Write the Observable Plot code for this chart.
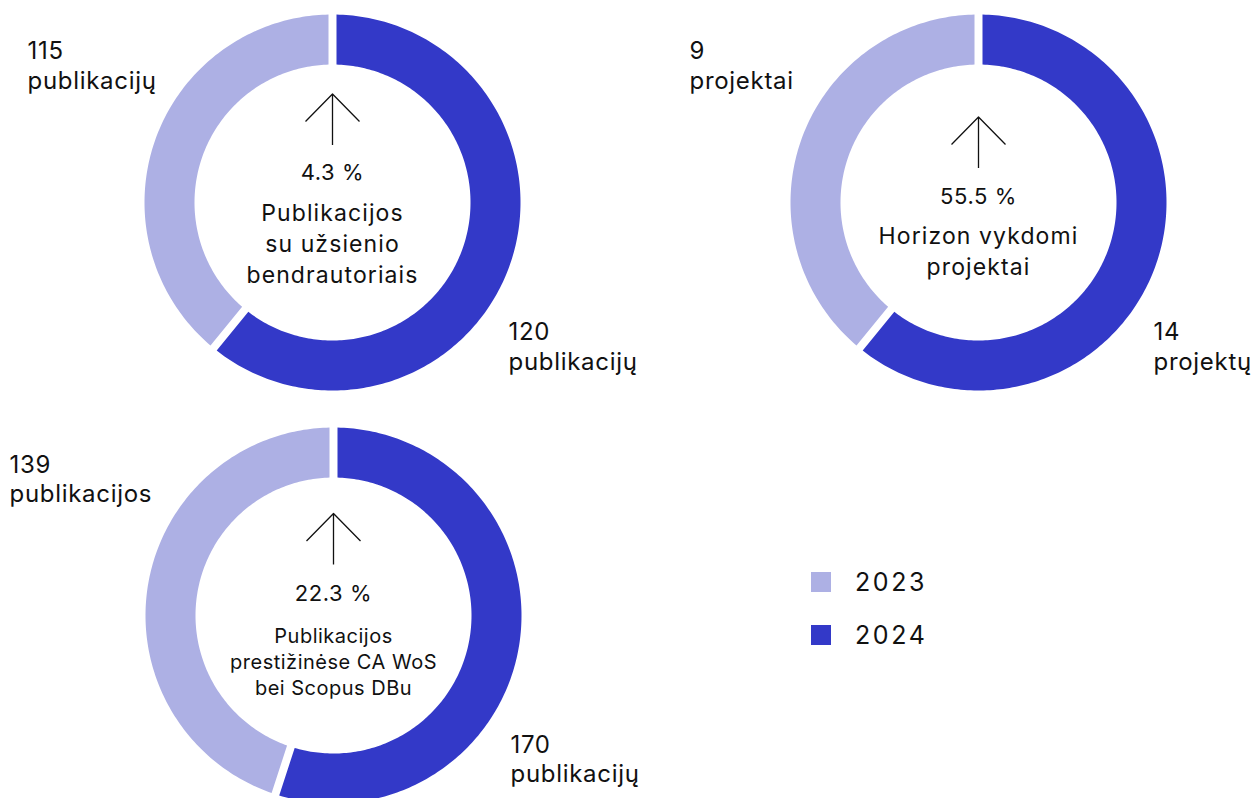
<!DOCTYPE html>
<html><head><meta charset="utf-8">
<script src="https://cdn.jsdelivr.net/npm/d3@7"></script>
<script src="https://cdn.jsdelivr.net/npm/@observablehq/plot@0.6"></script>
<style>
html,body{margin:0;padding:0;background:#fff;width:1257px;height:798px;overflow:hidden;font-family:Inter,sans-serif;color:#111;}
#page{position:relative;width:1257px;height:798px;overflow:hidden;}
.ring{position:absolute;}
.legend{position:absolute;left:811px;top:569px;}
.row{display:flex;align-items:center;height:26px;margin-bottom:26.5px;}
.sw{width:20px;height:20px;margin-right:24px;}
.lab{font-size:25px;line-height:26px;color:#111;letter-spacing:2.6px;}
</style></head><body><div id="page"></div>
<script>
// ---- data ----
const years = ["2023", "2024"];
const colors = ["#adb0e4", "#3339c8"];
const values2023 = [115, 9, 139];
const values2024 = [120, 14, 170];
const units2023 = ["publikacijų", "projektai", "publikacijos"];
const units2024 = ["publikacijų", "projektų", "publikacijų"];
const growthLabels = ["4.3 %", "55.5 %", "22.3 %"];
const descriptions = [
  "Publikacijos\nsu užsienio\nbendrautoriais",
  "Horizon vykdomi\nprojektai",
  "Publikacijos\nprestižinėse CA WoS\nbei Scopus DBu"
];
// share (%) of the ring given to 2024, as drawn in the picture
const drawnShare2024 = [60.9, 60.9, 55.0];

// ---- layout (pixels, relative to each ring centre, y downwards) ----
const layout = [
  {cx: 332, cy: 201.5, l23x: -305, l23y: -113.9, l24x: 176, l24y: 167.1, arrowY: -57.5, pctY: -22.5, descY: 80.2, descSize: 23, descLH: 30.8 / 23, descLS: "1.1px"},
  {cx: 978, cy: 201.5, l23x: -289, l23y: -113.9, l24x: 175, l24y: 167.1, arrowY: -34.5, pctY: 1.2, descY: 72.5, descSize: 23, descLH: 30.8 / 23, descLS: "1.1px"},
  {cx: 333, cy: 615, l23x: -324, l23y: -113.4, l24x: 177, l24y: 166.6, arrowY: -51, pctY: -14.3, descY: 79, descSize: 20, descLH: 1.3, descLS: "0.5px"}
];
const RO = 188, RI = 138, PAD = 4;
const W = 680, H = 420;
const OUTER_SIZE = 24, OUTER_LINE = 29.2;

function slice(a0, a1, year) {
  const pts = [];
  const n = Math.max(8, Math.round((a1 - a0) / (2 * Math.PI) * 360));
  const oa = a0 + Math.asin(PAD / RO), ob = a1 - Math.asin(PAD / RO);
  const ia = a0 + Math.asin(PAD / RI), ib = a1 - Math.asin(PAD / RI);
  for (let k = 0; k <= n; k++) {
    const a = oa + (ob - oa) * k / n;
    pts.push({x: RO * Math.sin(a), y: -RO * Math.cos(a), year});
  }
  for (let k = n; k >= 0; k--) {
    const a = ia + (ib - ia) * k / n;
    pts.push({x: RI * Math.sin(a), y: -RI * Math.cos(a), year});
  }
  return pts;
}

const arrowShape = {
  draw(context, l) {
    context.moveTo(0, 0);
    context.lineTo(0, -l);
    context.moveTo(-27, -l + 27.5);
    context.lineTo(0, -l);
    context.lineTo(27, -l + 27.5);
  }
};

const page = document.getElementById("page");

for (let i = 0; i < values2023.length; i++) {
  const L = layout[i];
  const a24 = drawnShare2024[i] / 100 * 2 * Math.PI;
  const pts = [...slice(0, a24, "2024"), ...slice(a24, 2 * Math.PI, "2023")];
  const chart = Plot.plot({
    width: W, height: H, margin: 0,
    x: {domain: [-W / 2, W / 2], axis: null},
    y: {domain: [-H / 2, H / 2], axis: null, reverse: true},
    color: {domain: years, range: colors},
    style: {background: "transparent", fontFamily: "Inter, sans-serif", color: "#111", maxWidth: "none", overflow: "visible"},
    marks: [
      Plot.line(pts, {x: "x", y: "y", z: "year", fill: "year", stroke: "none", curve: "linear-closed"}),
      Plot.text([{x: L.l23x, y: L.l23y, t: `${values2023[i]}\n${units2023[i]}`}],
        {x: "x", y: "y", text: "t", textAnchor: "start", lineAnchor: "bottom", fontSize: OUTER_SIZE, lineHeight: OUTER_LINE / OUTER_SIZE, fill: "#111"}),
      Plot.text([{x: L.l24x, y: L.l24y, t: `${values2024[i]}\n${units2024[i]}`}],
        {x: "x", y: "y", text: "t", textAnchor: "start", lineAnchor: "bottom", fontSize: OUTER_SIZE, lineHeight: OUTER_LINE / OUTER_SIZE, fill: "#111"}),
      Plot.vector([{x: 0, y: L.arrowY}],
        {x: "x", y: "y", length: 51, anchor: "start", shape: arrowShape, stroke: "#111", strokeWidth: 1.3, fill: "none", strokeLinecap: "butt"}),
      Plot.text([{x: 0, y: L.pctY, t: growthLabels[i]}],
        {x: "x", y: "y", text: "t", textAnchor: "middle", lineAnchor: "bottom", fontSize: 22, fill: "#111"}),
      Plot.text([{x: 0, y: L.descY, t: descriptions[i]}],
        {x: "x", y: "y", text: "t", textAnchor: "middle", lineAnchor: "bottom", fontSize: L.descSize, lineHeight: L.descLH, fill: "#111"})
    ]
  });
  // letter spacing per text mark (mark groups follow the marks order)
  const groups = Array.from(chart.children).filter(el => el.tagName.toLowerCase() === "g");
  const spacing = [null, "0.7px", "0.7px", null, "0.6px", L.descLS];
  groups.forEach((g, k) => { if (spacing[k]) g.style.letterSpacing = spacing[k]; });

  const div = document.createElement("div");
  div.className = "ring";
  div.style.left = (L.cx - W / 2) + "px";
  div.style.top = (L.cy - H / 2) + "px";
  div.style.width = W + "px";
  div.style.height = H + "px";
  div.appendChild(chart);
  page.appendChild(div);
}

// legend
const legend = document.createElement("div");
legend.className = "legend";
years.forEach((y, k) => {
  const row = document.createElement("div");
  row.className = "row";
  const sw = document.createElement("div");
  sw.className = "sw";
  sw.style.background = colors[k];
  const lab = document.createElement("div");
  lab.className = "lab";
  lab.textContent = y;
  row.appendChild(sw);
  row.appendChild(lab);
  legend.appendChild(row);
});
page.appendChild(legend);
</script></body></html>
